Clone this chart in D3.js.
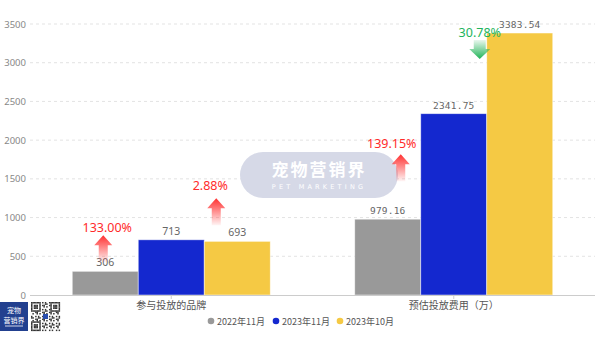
<!DOCTYPE html>
<html><head><meta charset="utf-8">
<script src="https://cdn.jsdelivr.net/npm/d3@7"></script>
<style>body{margin:0;background:#fff}svg{display:block}text{font-family:"Noto Sans CJK SC","Noto Sans",sans-serif}</style>
</head><body><svg id="c" width="600" height="337"></svg>
<script>
const categories = ["参与投放的品牌", "预估投放费用（万）"];
const seriesNames = ["2022年11月", "2023年11月", "2023年10月"];
const series2022Nov = [306, 979.16];
const series2023Nov = [713, 2341.75];
const series2023Oct = [693, 3383.54];
const valueLabels2022Nov = ["306", "979.16"];
const valueLabels2023Nov = ["713", "2341.75"];
const valueLabels2023Oct = ["693", "3383.54"];
const yTicks = [0, 500, 1000, 1500, 2000, 2500, 3000, 3500];
const changeLabels = ["133.00%", "2.88%", "139.15%", "30.78%"];
const changeDirections = ["up", "up", "up", "down"];
const changeCategory = [0, 0, 1, 1];
const changeSeries = [0, 2, 0, 2];

// layout/styles (not data)
const colors = ["#999999", "#1428cf", "#f5c944"];
const changeOffsets = [ // dx from bar centre, arrow top relative to bar top, text y relative to bar top
  {dx: -2, ay: -36, ty: -44},
  {dx: -21, ay: -43, ty: -56},
  {dx: 13, ay: -65, ty: -76},
  {dx: -40, ay: 7, ty: -1}
];
const textDx = [4, -6, -9, 0];

const svg = d3.select("#c");
const defs = svg.append("defs");
const gr = defs.append("linearGradient").attr("id","gRed").attr("x1",0).attr("y1",0).attr("x2",0).attr("y2",1);
gr.append("stop").attr("offset","0%").attr("stop-color","#ff3030");
gr.append("stop").attr("offset","100%").attr("stop-color","#ff3030").attr("stop-opacity",0.05);
const gg = defs.append("linearGradient").attr("id","gGreen").attr("x1",0).attr("y1",0).attr("x2",0).attr("y2",1);
gg.append("stop").attr("offset","0%").attr("stop-color","#1fb356").attr("stop-opacity",0.1);
gg.append("stop").attr("offset","100%").attr("stop-color","#1fb356");

const y = d3.scaleLinear().domain([0, 3500]).range([295, 24]);
const x0 = d3.scaleBand().domain(d3.range(categories.length)).range([30, 595]).padding(0);
const x1 = d3.scaleBand().domain(d3.range(seriesNames.length)).range([0, x0.bandwidth()]).paddingInner(0).paddingOuter(0.64);

// grid
svg.append("g").selectAll("line").data(yTicks.filter(d=>d>0)).join("line")
  .attr("x1",30).attr("x2",595).attr("y1",d=>y(d)).attr("y2",d=>y(d))
  .attr("stroke","#e3e3e3").attr("stroke-dasharray","3,3");
// y axis
const yAxis = d3.axisLeft(y).tickValues(yTicks).tickFormat(d3.format("d")).tickSize(0).tickPadding(4);
const ya = svg.append("g").attr("transform","translate(30,0)").call(yAxis);
ya.select(".domain").remove();
ya.selectAll("text").attr("fill","#888").attr("font-size",9.5).style("font-family","'Noto Sans','Noto Sans CJK SC',sans-serif");

// watermark
const wm = svg.append("g");
wm.append("rect").attr("x",240).attr("y",152).attr("width",158).attr("height",46).attr("rx",23).attr("fill","#d6d9e7");
wm.append("text").attr("x",319).attr("y",176).attr("text-anchor","middle").attr("fill","#fff").attr("font-size",17).attr("font-weight","bold").attr("letter-spacing",2).text("宠物营销界");
wm.append("text").attr("x",319).attr("y",189).attr("text-anchor","middle").attr("fill","#fff").attr("font-size",6.5).attr("letter-spacing",3.2).style("font-family","'DejaVu Sans',sans-serif").text("PET MARKETING");

// bars
const allSeries = [series2022Nov, series2023Nov, series2023Oct];
const allLabels = [valueLabels2022Nov, valueLabels2023Nov, valueLabels2023Oct];
const barData = [];
categories.forEach((c,ci)=>allSeries.forEach((s,si)=>barData.push({ci, si, v:s[ci], l:allLabels[si][ci]})));
const bx = d=>x0(d.ci)+x1(d.si);
svg.append("g").selectAll("rect").data(barData).join("rect")
  .attr("x",bx).attr("y",d=>y(d.v)).attr("width",x1.bandwidth()).attr("height",d=>y(0)-y(d.v))
  .attr("fill",d=>colors[d.si]).attr("stroke","#fff").attr("stroke-opacity",0.6).attr("stroke-width",0.8);
svg.append("g").selectAll("text").data(barData).join("text")
  .attr("x",d=>bx(d)+x1.bandwidth()/2).attr("y",d=>y(d.v)-5).attr("text-anchor","middle")
  .attr("fill","#666").attr("font-size",d=>d.ci===1?9.5:10.5)
  .attr("letter-spacing",d=>d.ci===1?0.2:0)
  .style("font-family",d=>d.ci===1?"'DejaVu Sans Mono',monospace":"'Noto Sans',sans-serif")
  .text(d=>d.l);

// x axis baseline
svg.append("line").attr("x1",30).attr("x2",595).attr("y1",295.5).attr("y2",295.5).attr("stroke","#ccc");
svg.append("g").selectAll("line").data(categories.map((c,i)=>i)).join("line")
  .attr("x1",d=>x0(d)+x0.bandwidth()/2).attr("x2",d=>x0(d)+x0.bandwidth()/2).attr("y1",296).attr("y2",299).attr("stroke","#ccc");
svg.append("g").selectAll("text").data(categories).join("text")
  .attr("x",(d,i)=>x0(i)+x0.bandwidth()/2).attr("y",309).attr("text-anchor","middle")
  .attr("fill","#555").attr("font-size",10).text(d=>d);

// change annotations
changeLabels.forEach((t,i)=>{
  const ci = changeCategory[i], si = changeSeries[i];
  const v = allSeries[si][ci];
  const cx = x0(ci)+x1(si)+x1.bandwidth()/2 + changeOffsets[i].dx;
  const top = y(v);
  const g = svg.append("g");
  if (changeDirections[i]==="up") {
    const a = top + changeOffsets[i].ay;
    g.append("path").attr("d",`M${cx},${a} L${cx+9},${a+10} L${cx+4.5},${a+10} L${cx+4.5},${a+27} L${cx-4.5},${a+27} L${cx-4.5},${a+10} L${cx-9},${a+10} Z`)
      .attr("fill","url(#gRed)");
    g.append("text").attr("x",cx+textDx[i]).attr("y",top+changeOffsets[i].ty+5).attr("text-anchor","middle")
      .attr("fill","#ff2b2b").attr("font-size",12.5).style("font-family","'Noto Sans',sans-serif").text(t);
  } else {
    const a = top + changeOffsets[i].ay;
    g.append("path").attr("d",`M${cx-6},${a} L${cx+6},${a} L${cx+6},${a+9} L${cx+10.5},${a+9} L${cx},${a+19} L${cx-10.5},${a+9} L${cx-6},${a+9} Z`)
      .attr("fill","url(#gGreen)");
    g.append("text").attr("x",cx+textDx[i]).attr("y",top+changeOffsets[i].ty+5).attr("text-anchor","middle")
      .attr("fill","#22b45c").attr("font-size",12.5).style("font-family","'Noto Sans',sans-serif").text(t);
  }
});

// legend
const lg = svg.append("g");
const legX = [211, 276, 340];
seriesNames.forEach((n,i)=>{
  lg.append("circle").attr("cx",legX[i]).attr("cy",321).attr("r",3.3).attr("fill",colors[i]);
  lg.append("text").attr("x",legX[i]+6).attr("y",324.5).attr("fill","#555").attr("font-size",9).text(n);
});

// logo + qr
const logo = svg.append("g");
logo.append("rect").attr("x",0).attr("y",302).attr("width",28).attr("height",29).attr("fill","#22408f");
logo.append("text").attr("x",14).attr("y",313).attr("text-anchor","middle").attr("fill","#fff").attr("font-size",7).text("宠物");
logo.append("text").attr("x",14).attr("y",323).attr("text-anchor","middle").attr("fill","#fff").attr("font-size",7).text("营销界");
logo.append("line").attr("x1",5).attr("x2",23).attr("y1",326).attr("y2",326).attr("stroke","#fff").attr("stroke-width",0.8);
const qr = svg.append("g").attr("transform","translate(31,302)");
const N = 21, m = 29/N;
const cells = [];
for (let r=0;r<N;r++) for (let c=0;c<N;c++){
  const inF = (rr,cc)=>r>=rr&&r<rr+7&&c>=cc&&c<cc+7;
  let on;
  if (inF(0,0)||inF(0,14)||inF(14,0)) {
    const rr2 = r>=14?r-14:r, cc2 = c>=14?c-14:c;
    const a = Math.max(Math.abs(rr2-3),Math.abs(cc2-3));
    on = a!==2;
  } else on = ((r*31+c*17+r*c*7)%5)<2;
  if (on) cells.push([r,c]);
}
qr.append("rect").attr("width",29).attr("height",29).attr("fill","#fff");
qr.selectAll("rect.m").data(cells).join("rect").attr("class","m")
  .attr("x",d=>d[1]*m).attr("y",d=>d[0]*m).attr("width",m+0.1).attr("height",m+0.1).attr("fill","#333");
qr.append("rect").attr("x",12).attr("y",12).attr("width",5).attr("height",5).attr("fill","#2a4fb0");
</script></body></html>
